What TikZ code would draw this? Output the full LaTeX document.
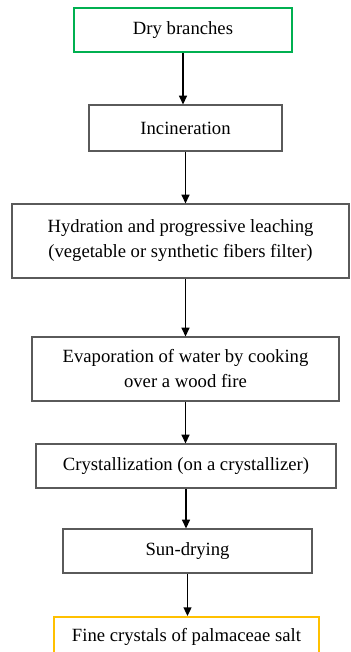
\documentclass[tikz,border=0pt]{standalone}
\usepackage{fontspec}
\setmainfont{Liberation Serif}
\usepackage{tikz}
\usetikzlibrary{arrows.meta}

\definecolor{boxgreen}{RGB}{0,176,80}
\definecolor{boxorange}{RGB}{255,192,0}
\definecolor{boxgray}{RGB}{90,90,90}

\tikzset{
	stage/.style={draw=boxgray, line width=0.9pt, rectangle, align=center, inner sep=0pt,
		font=\fontsize{14}{18.75}\selectfont},
	flow/.style={-{Triangle[width=6pt,length=6.5pt]}, line width=1.1pt, black}
}

\begin{document}
\begin{tikzpicture}[x=0.75pt, y=-0.75pt]
\useasboundingbox (0,0) rectangle (350,652);
\node[stage, draw=boxgreen, line width=1.6pt, minimum width=163.5pt, minimum height=33pt] (dry) at (183,30) {Dry branches};
\node[stage, minimum width=144.75pt, minimum height=34.5pt] (incin) at (185.5,128) {Incineration};
\node[stage, minimum width=252.75pt, minimum height=55.5pt] (hydra) at (180.5,241)
	{Hydration and progressive leaching\\(vegetable or synthetic fibers filter)};
\node[stage, minimum width=230.25pt, minimum height=48pt] (evap) at (185.5,369)
	{Evaporation of water by cooking\\over a wood fire};
\node[stage, minimum width=225pt, minimum height=33pt] (cryst) at (186,466) {Crystallization (on a crystallizer)};
\node[stage, minimum width=186.75pt, minimum height=33pt] (sun) at (187.5,551) {Sun-drying};
\node[stage, draw=boxorange, line width=1.6pt, minimum width=198.75pt, minimum height=30pt] (fine) at (186.5,637)
	{Fine crystals of palmaceae salt};
\path[flow]
(dry.south) edge (dry.south |- incin.north)
(incin.south) edge (incin.south |- hydra.north)
(evap.north |- hydra.south) edge (evap.north)
(evap.south) edge (evap.south |- cryst.north)
(cryst.south) edge (cryst.south |- sun.north)
(sun.south) edge (sun.south |- fine.north)
;
\end{tikzpicture}
\end{document}
